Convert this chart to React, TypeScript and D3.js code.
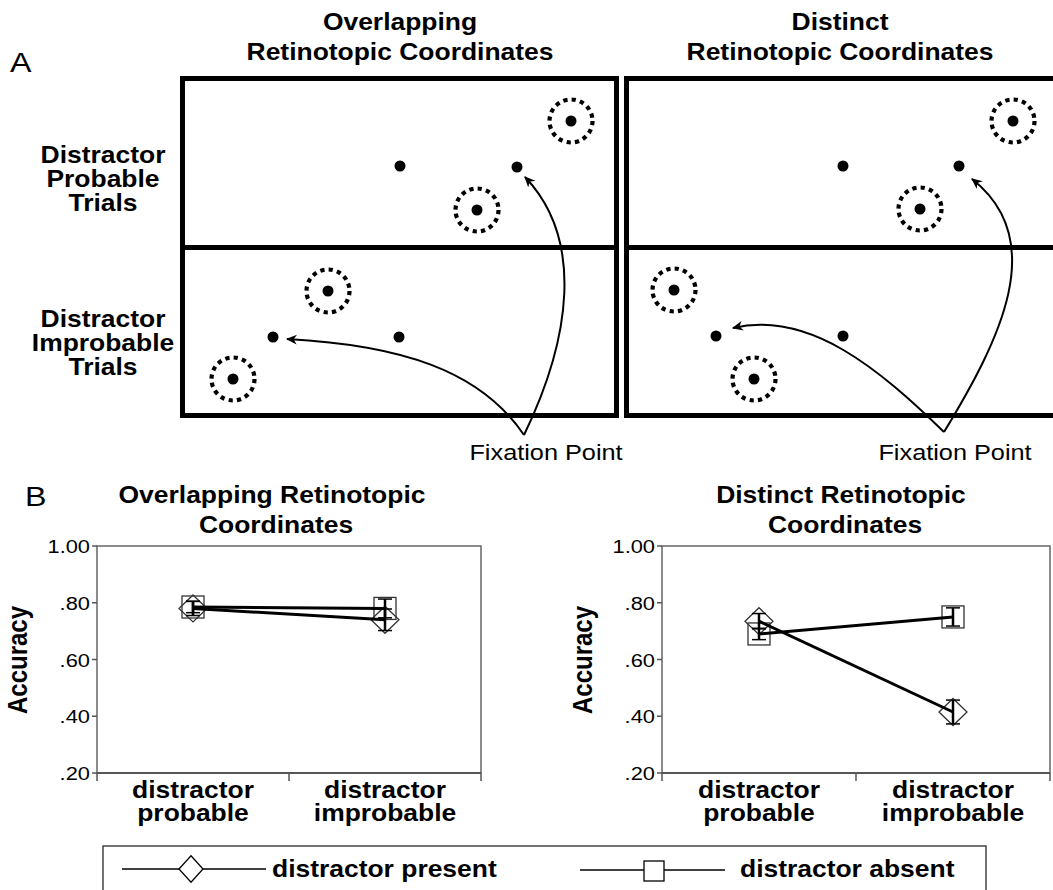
import React from 'react';
import * as d3 from 'd3';

// ---- panel B data ----
const categories = ['distractor probable', 'distractor improbable'];
const categoryLines = [['distractor', 'probable'], ['distractor', 'improbable']];
const yTickValues = [0.2, 0.4, 0.6, 0.8, 1.0];

const overlapPresent = [0.78, 0.74];
const overlapPresentErr = [0.025, 0.038];
const overlapAbsent = [0.785, 0.78];
const overlapAbsentErr = [0.02, 0.033];

const distinctPresent = [0.735, 0.415];
const distinctPresentErr = [0.027, 0.042];
const distinctAbsent = [0.69, 0.75];
const distinctAbsentErr = [0.02, 0.032];

const legendLabels = ['distractor present', 'distractor absent'];

// ---- panel A schematic (units of 10px, relative to box centre / fixation row) ----
const columnTitles = [['Overlapping', 'Retinotopic Coordinates'], ['Distinct', 'Retinotopic Coordinates']];
const rowTitles = [['Distractor', 'Probable', 'Trials'], ['Distractor', 'Improbable', 'Trials']];
// [column][row] -> points
const fixations = [
  [[[0, 0], [11.7, 0.1]], [[-12.7, 0], [-0.1, 0]]],
  [[[-0.1, 0], [11.5, 0]], [[-12.8, -0.1], [-0.1, -0.1]]],
];
const stimuli = [
  [[[17.1, -4.5], [7.7, 4.4]], [[-7.2, -4.6], [-16.7, 4.2]]],
  [[[16.9, -4.5], [7.6, 4.3]], [[-17, -4.7], [-9, 4.2]]],
];
// arrows: cubic curves in bottom-row units
const arrows = [
  [[[12.4, 9.8], [17, 0.3], [18.5, -9.7], [12.5, -16]], [[12.4, 9.8], [8, 3.3], [0, 0.8], [-11.3, 0.2]]],
  [[[10, 9.5], [15.6, 0.3], [20.6, -9.7], [12.8, -15.8]], [[10, 9.5], [3.6, 3.3], [-3.4, -2.7], [-11.1, -0.9]]],
];

const FONT = '"Liberation Sans", Arial, sans-serif';
const SX = 1.15;

function SText({ x, y, children, sx = SX, rotate = 0, ...rest }: any) {
  return (
    <text
      transform={`translate(${x},${y}) scale(${sx},1)${rotate ? ` rotate(${rotate})` : ''}`}
      fontFamily={FONT}
      {...rest}
    >
      {children}
    </text>
  );
}

function diamondPath(cx: number, cy: number, hw: number, hh: number) {
  return `M${cx},${cy - hh}L${cx + hw},${cy}L${cx},${cy + hh}L${cx - hw},${cy}Z`;
}

function PanelA() {
  const boxLeft = [180, 624];
  const colX = boxLeft.map((l) => d3.scaleLinear().domain([-22, 22]).range([l, l + 440]));
  const rowY = [
    d3.scaleLinear().domain([-9, 8.2]).range([76, 248]),
    d3.scaleLinear().domain([-9, 8.1]).range([247, 418]),
  ];
  const r = 21.5;
  const per = (2 * Math.PI * r) / 16;
  return (
    <g>
      <defs>
        <marker id="ah" viewBox="0 0 10 10" refX="9" refY="5" markerWidth="11" markerHeight="11" markerUnits="userSpaceOnUse" orient="auto">
          <path d="M0,0.5L10,5L0,9.5L3,5Z" fill="#000" />
        </marker>
      </defs>
      <text x={10} y={72} fontFamily={FONT} fontSize={28} transform="translate(10,72) scale(1.15,1) translate(-10,-72)">A</text>
      {columnTitles.map((lines, c) => {
        const cx = (colX[c](-22) + colX[c](22)) / 2 + (c === 0 ? 0 : -4);
        return lines.map((t, i) => (
          <SText key={`${c}-${i}`} x={cx} y={30 + i * 30} fontSize={23} fontWeight="bold" textAnchor="middle">{t}</SText>
        ));
      })}
      {rowTitles.map((lines, rIdx) =>
        lines.map((t, i) => (
          <SText key={`${rIdx}-${i}`} x={103} y={(rIdx === 0 ? 163 : 327) + i * 24} fontSize={23} fontWeight="bold" textAnchor="middle">{t}</SText>
        ))
      )}
      {boxLeft.map((l, c) => (
        <g key={c}>
          <rect x={l + 2.5} y={78.5} width={c === 0 ? 434 : 500} height={337} fill="none" stroke="#000" strokeWidth={5} />
          <line x1={l} x2={l + (c === 0 ? 439 : 500)} y1={247.5} y2={247.5} stroke="#000" strokeWidth={5} />
        </g>
      ))}
      {stimuli.map((col, c) =>
        col.map((row, rIdx) =>
          row.map(([u, v], k) => (
            <g key={`${c}-${rIdx}-${k}`}>
              <circle cx={colX[c](u)} cy={rowY[rIdx](v)} r={r} fill="none" stroke="#000" strokeWidth={4.2} strokeDasharray={`${per / 2} ${per / 2}`} />
              <circle cx={colX[c](u)} cy={rowY[rIdx](v)} r={5.5} fill="#000" />
            </g>
          ))
        )
      )}
      {fixations.map((col, c) =>
        col.map((row, rIdx) =>
          row.map(([u, v], k) => (
            <circle key={`${c}-${rIdx}-${k}`} cx={colX[c](u)} cy={rowY[rIdx](v)} r={5.5} fill="#000" />
          ))
        )
      )}
      {arrows.map((col, c) =>
        col.map((pts, k) => {
          const p = d3.path();
          const P = pts.map(([u, v]) => [colX[c](u), rowY[1](v)]);
          p.moveTo(P[0][0], P[0][1]);
          p.bezierCurveTo(P[1][0], P[1][1], P[2][0], P[2][1], P[3][0], P[3][1]);
          return <path key={`${c}-${k}`} d={p.toString()} fill="none" stroke="#000" strokeWidth={2} markerEnd="url(#ah)" />;
        })
      )}
      {colX.map((s, c) => (
        <SText key={c} x={s(c === 0 ? 14.6 : 11.1)} y={460} fontSize={22} textAnchor="middle">Fixation Point</SText>
      ))}
    </g>
  );
}

function Chart({ x0, x1, titleLines, titleX, present, presentErr, absent, absentErr }: any) {
  const y0 = 546;
  const y1 = 773;
  const y = d3.scaleLinear().domain([0.2, 1]).range([y1, y0]);
  const x = d3.scalePoint().domain(categories).range([x0, x1]).padding(0.5);
  const fmt = (v: number) => (v >= 1 ? '1.00' : d3.format('.2f')(v).replace(/^0/, ''));
  const line = d3.line<number>().x((_, i) => x(categories[i]) as number).y((d) => y(d));
  const mid = (x0 + x1) / 2;
  const series = [
    { vals: present, err: presentErr, shape: 'diamond' },
    { vals: absent, err: absentErr, shape: 'square' },
  ];
  return (
    <g>
      {titleLines.map((t: string, i: number) => (
        <SText key={i} x={titleX + (i === 1 ? 4 : 0)} y={503 + i * 30} fontSize={23} fontWeight="bold" textAnchor="middle">{t}</SText>
      ))}
      <rect x={x0} y={y0} width={x1 - x0} height={y1 - y0} fill="none" stroke="#666" strokeWidth={1.5} />
      <line x1={x0} x2={x1} y1={y1} y2={y1} stroke="#444" strokeWidth={1.5} />
      {yTickValues.map((v) => (
        <g key={v}>
          <line x1={x0 - 5} x2={x0} y1={y(v)} y2={y(v)} stroke="#555" strokeWidth={1.5} />
          <SText x={x0 - 7} y={y(v) + 7} fontSize={19} textAnchor="end">{fmt(v)}</SText>
        </g>
      ))}
      {[x0, mid, x1].map((tx, i) => (
        <line key={i} x1={tx} x2={tx} y1={y1} y2={y1 + 8} stroke="#555" strokeWidth={1.5} />
      ))}
      {categories.map((c, i) =>
        categoryLines[i].map((t, j) => (
          <SText key={`${i}-${j}`} x={x(c)} y={798 + j * 23} fontSize={23} fontWeight="bold" textAnchor="middle">{t}</SText>
        ))
      )}
      <SText x={x0 - 70} y={660} rotate={-90} fontSize={24} fontWeight="bold" textAnchor="middle">Accuracy</SText>
      {series.map((s, k) =>
        s.vals.map((v: number, i: number) => {
          const cx = x(categories[i]) as number;
          const cy = y(v);
          return s.shape === 'diamond' ? (
            <path key={`${k}-${i}`} d={diamondPath(cx, cy, 14, 13.5)} fill="none" stroke="#333" strokeWidth={1.3} />
          ) : (
            <rect key={`${k}-${i}`} x={cx - 11} y={cy - 11} width={22} height={22} fill="none" stroke="#333" strokeWidth={1.3} />
          );
        })
      )}
      {series.map((s, k) => (
        <path key={k} d={line(s.vals) as string} fill="none" stroke="#000" strokeWidth={3} />
      ))}
      {series.map((s, k) =>
        s.vals.map((v: number, i: number) => {
          const cx = x(categories[i]) as number;
          const lo = y(v - s.err[i]);
          const hi = y(v + s.err[i]);
          return (
            <g key={`${k}-${i}`} stroke="#000">
              <line x1={cx} x2={cx} y1={lo} y2={hi} strokeWidth={2.5} />
              <line x1={cx - 7} x2={cx + 7} y1={lo} y2={lo} strokeWidth={1.5} />
              <line x1={cx - 7} x2={cx + 7} y1={hi} y2={hi} strokeWidth={1.5} />
            </g>
          );
        })
      )}
    </g>
  );
}

function Legend() {
  const ly = 869;
  return (
    <g>
      <rect x={103} y={846} width={883} height={60} fill="none" stroke="#444" strokeWidth={1.5} />
      <line x1={122} x2={266} y1={ly} y2={ly} stroke="#000" strokeWidth={1.3} />
      <path d={diamondPath(191, ly, 12, 13.3)} fill="#fff" stroke="#000" strokeWidth={1.3} />
      <SText x={272} y={877} fontSize={23} fontWeight="bold">{legendLabels[0]}</SText>
      <line x1={580} x2={725} y1={ly + 1} y2={ly + 1} stroke="#000" strokeWidth={1.3} />
      <rect x={644} y={861} width={20} height={20} fill="#fff" stroke="#000" strokeWidth={1.3} />
      <SText x={740} y={877} fontSize={23} fontWeight="bold">{legendLabels[1]}</SText>
    </g>
  );
}

export default function App() {
  return (
    <svg width={1053} height={890} style={{ position: 'absolute', left: 0, top: 0, background: '#fff' }}>
      <PanelA />
      <text fontFamily={FONT} fontSize={28} transform="translate(25,506) scale(1.15,1)">B</text>
      <Chart x0={97} x1={481} titleLines={['Overlapping Retinotopic', 'Coordinates']} titleX={272}
        present={overlapPresent} presentErr={overlapPresentErr} absent={overlapAbsent} absentErr={overlapAbsentErr} />
      <Chart x0={662} x1={1050} titleLines={['Distinct Retinotopic', 'Coordinates']} titleX={841}
        present={distinctPresent} presentErr={distinctPresentErr} absent={distinctAbsent} absentErr={distinctAbsentErr} />
      <Legend />
    </svg>
  );
}
